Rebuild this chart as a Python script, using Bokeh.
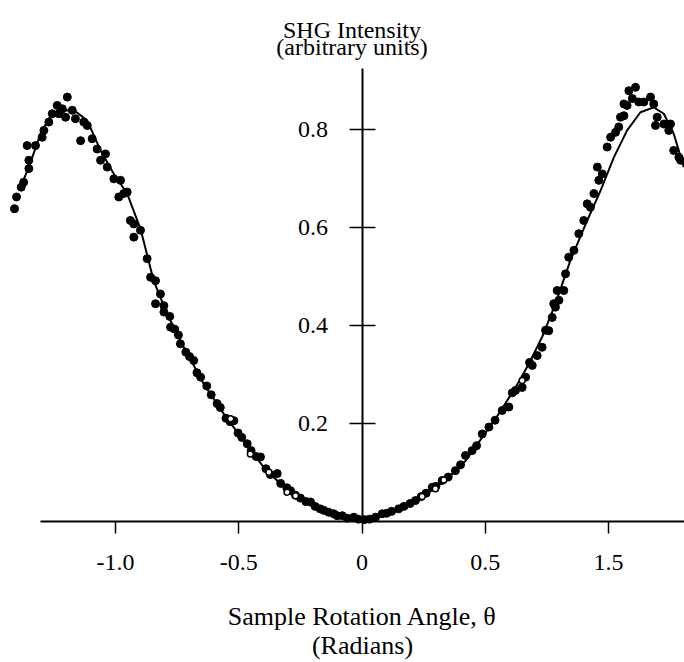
from bokeh.plotting import figure
from bokeh.models import Range1d, FixedTicker, Label, LinearAxis
from bokeh.embed import file_html
from bokeh.resources import INLINE

# ---- data ----
x_ticks = [-1.0, -0.5, 0.0, 0.5, 1.0]
x_tick_labels = ["-1.0", "-0.5", "0", "0.5", "1.5"]
y_ticks = [0.2, 0.4, 0.6, 0.8]

y_title = ["SHG Intensity", "(arbitrary units)"]
x_title = "Sample Rotation Angle, \u03b8\n(Radians)"

# fitted curve
fit_theta = [-1.386, -1.352, -1.305, -1.271, -1.237, -1.196, -1.158, -1.115, -1.061, -1.007,
             -0.953, -0.899, -0.845, -0.791, -0.723, -0.642, -0.561, -0.480, -0.399, -0.317,
             -0.222, -0.128, -0.047, 0.0, 0.041, 0.136, 0.244, 0.339, 0.420, 0.488,
             0.555, 0.623, 0.677, 0.731, 0.785, 0.846, 0.914, 0.968, 1.022, 1.076,
             1.130, 1.184, 1.225, 1.265, 1.306]
fit_shg = [0.682, 0.723, 0.791, 0.822, 0.835, 0.839, 0.835, 0.818, 0.757, 0.709,
           0.669, 0.597, 0.490, 0.423, 0.355, 0.280, 0.219, 0.164, 0.110, 0.069,
           0.035, 0.015, 0.007, 0.002, 0.007, 0.022, 0.049, 0.083, 0.123, 0.171,
           0.219, 0.273, 0.321, 0.376, 0.444, 0.533, 0.614, 0.675, 0.743, 0.798,
           0.835, 0.845, 0.832, 0.791, 0.723]

# measured points (filled)
pts_theta = [-1.410, -1.402, -1.383, -1.373, -1.352, -1.352, -1.359, -1.325, -1.298, -1.291,
             -1.271, -1.257, -1.230, -1.216, -1.237, -1.196, -1.203, -1.176, -1.163, -1.129,
             -1.115, -1.142, -1.095, -1.075, -1.061, -1.041, -1.034, -1.007, -0.980, -0.967,
             -0.987, -0.953, -0.940, -0.926, -0.899, -0.926, -0.872, -0.858, -0.838, -0.818,
             -0.804, -0.838, -0.804, -0.777, -0.737, -0.683, -0.655, -0.588, -0.520, -0.466,
             -0.412, -0.344, -0.290, -0.209, -0.155, -0.101, -0.033,
             -0.780, -0.760, -0.745, -0.715, -0.700, -0.670, -0.630, -0.612, -0.575, -0.552,
             -0.535, -0.503, -0.488, -0.450, -0.430, -0.390, -0.372, -0.330, -0.305, -0.270,
             -0.250, -0.228, -0.190, -0.170, -0.135, -0.115, -0.080, -0.060, -0.015, 0.010,
             0.030, 0.055, 0.082, 0.100, 0.120, 0.149, 0.170, 0.195, 0.217, 0.240,
             0.260, 0.285, 0.300, 0.325, 0.350, 0.379, 0.400, 0.420, 0.447, 0.465,
             0.488, 0.515, 0.540, 0.569, 0.596, 0.610, 0.623, 0.650, 0.664, 0.680,
             0.691, 0.711, 0.731, 0.745, 0.758, 0.772, 0.785, 0.799, 0.819,
             0.778, 0.792, 0.826, 0.839, 0.860, 0.880, 0.900, 0.914, 0.927, 0.941,
             0.961, 0.975, 0.955, 0.995, 1.009, 1.029, 1.042, 1.049, 1.063, 1.076,
             1.063, 1.097, 1.083, 1.110, 1.123, 1.144, 1.171, 1.184, 1.198, 1.191,
             1.225, 1.245, 1.252, 1.265, 1.286, 1.293]
pts_shg = [0.638, 0.662, 0.682, 0.692, 0.720, 0.737, 0.767, 0.767, 0.784, 0.798,
           0.815, 0.832, 0.832, 0.842, 0.849, 0.866, 0.825, 0.839, 0.822, 0.815,
           0.808, 0.777, 0.781, 0.760, 0.737, 0.750, 0.723, 0.699, 0.696, 0.669,
           0.662, 0.672, 0.614, 0.607, 0.594, 0.580, 0.536, 0.498, 0.491, 0.464,
           0.440, 0.444, 0.427, 0.396, 0.362, 0.328, 0.294, 0.240, 0.205, 0.158,
           0.131, 0.097, 0.062, 0.039, 0.022, 0.011, 0.008,
           0.418, 0.392, 0.380, 0.345, 0.336, 0.303, 0.276, 0.258, 0.232, 0.210,
           0.203, 0.180, 0.171, 0.144, 0.132, 0.107, 0.095, 0.077, 0.068, 0.053,
           0.047, 0.040, 0.030, 0.025, 0.018, 0.015, 0.011, 0.006, 0.004, 0.003,
           0.004, 0.008, 0.015, 0.016, 0.020, 0.025, 0.030, 0.036, 0.042, 0.050,
           0.057, 0.069, 0.071, 0.083, 0.090, 0.103, 0.115, 0.134, 0.144, 0.154,
           0.178, 0.192, 0.206, 0.226, 0.233, 0.262, 0.267, 0.273, 0.294, 0.324,
           0.318, 0.338, 0.355, 0.390, 0.389, 0.416, 0.437, 0.451, 0.471,
           0.444, 0.471, 0.505, 0.539, 0.553, 0.587, 0.614, 0.648, 0.641, 0.669,
           0.696, 0.709, 0.723, 0.764, 0.784, 0.794, 0.805, 0.825, 0.828, 0.849,
           0.852, 0.863, 0.879, 0.886, 0.856, 0.856, 0.866, 0.852, 0.825, 0.808,
           0.811, 0.798, 0.811, 0.757, 0.743, 0.737]

# measured points (open)
open_theta = [-0.533, -0.453, -0.378, -0.304, -0.270, 0.244, 0.298, 0.332, 0.650]
open_shg = [0.209, 0.137, 0.100, 0.059, 0.052, 0.050, 0.066, 0.084, 0.287]

FONT = "Liberation Serif"

p = figure(width=684, height=662, output_backend="svg", toolbar_location=None,
           x_range=Range1d(-1.4671, 1.3088), y_range=Range1d(-0.2888, 1.0633),
           x_axis_location=None, y_axis_location=None, min_border=0)
p.outline_line_color = None
p.background_fill_color = "white"
p.border_fill_color = "white"
for g in p.grid:
    g.visible = False

xaxis = LinearAxis(fixed_location=0, bounds=(-1.305, 1.5),
                   ticker=FixedTicker(ticks=x_ticks),
                   major_label_overrides={t: l for t, l in zip(x_ticks, x_tick_labels)},
                   axis_line_width=2, axis_line_color="black",
                   major_tick_line_width=1.5, major_tick_in=0, major_tick_out=12,
                   minor_tick_in=0, minor_tick_out=0,
                   major_label_text_font=FONT, major_label_text_font_size="24px",
                   major_label_text_color="black", major_label_standoff=22,
                   axis_label=x_title, axis_label_text_font=FONT,
                   axis_label_text_font_style="normal", axis_label_text_font_size="26px",
                   axis_label_text_line_height=1.0,
                   axis_label_text_color="black", axis_label_standoff=28)
p.add_layout(xaxis, "below")

yaxis = LinearAxis(fixed_location=0, bounds=(0, 0.924),
                   ticker=FixedTicker(ticks=y_ticks),
                   axis_line_width=2, axis_line_color="black",
                   major_tick_line_width=1.5, major_tick_in=13, major_tick_out=13,
                   minor_tick_in=0, minor_tick_out=0,
                   major_label_text_font=FONT, major_label_text_font_size="24px",
                   major_label_text_color="black", major_label_standoff=21)
p.add_layout(yaxis, "left")

p.line(fit_theta, fit_shg, line_color="black", line_width=2)
p.scatter(pts_theta, pts_shg, size=8, fill_color="black", line_color="black")
p.scatter(open_theta, open_shg, size=6, fill_color="white", line_color="black", line_width=1.5)

for txt, yy in zip(y_title, [1.003, 0.969]):
    p.add_layout(Label(x=0, y=yy, text=txt, text_align="center", text_baseline="alphabetic",
                       x_offset=-10, text_font=FONT, text_font_size="24px", text_color="black"))

open("out.html", "w").write(file_html(p, INLINE))
